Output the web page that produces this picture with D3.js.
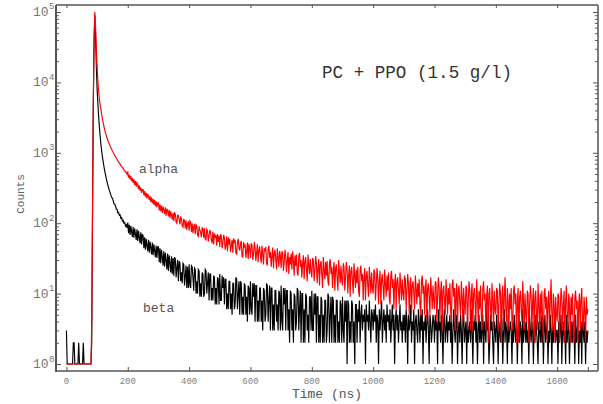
<!DOCTYPE html>
<html><head><meta charset="utf-8">
<script src="https://cdn.jsdelivr.net/npm/d3@7"></script>
<style>body{margin:0;background:#fff}svg{display:block}</style>
</head><body>
<script>
// Histogram bins: bin i is at time i * binWidthNs (ns)
const binWidthNs = 2.5;

const alphaCounts = [
 1,1,1,1,1,1,1,1,1,1,1,1,1,1,1,1,1,1,1,1,1,1,1,1,1,1,1,1,1,1,1,1,1,
 4,150,5000,40000,100000,62000,32000,17000,10500,7500,5800,4800,4100,3500,3000,2650,2350,2100,1900,1750,1620,1500,1410,1330,1250,1180,1120,
 1060,1010,965,915,885,835,810,765,750,705,695,655,648,612,606,570,566,530,532,498,
 530,445,488,420,470,395,440,372,420,350,398,330,375,352,305,345,290,320,270,300,
 300,250,285,238,270,225,262,240,212,245,200,232,192,220,183,214,175,205,168,195,
 195,152,185,148,178,140,172,155,135,168,128,160,150,125,155,118,148,130,112,140,
 108,140,135,104,100,130,128,112,96,122,118,92,88,115,108,84,110,80,98,106,
 78,108,104,75,100,72,88,98,70,95,92,68,65,90,80,74,63,86,84,62,
 85,60,58,82,78,55,66,80,74,57,52,76,50,72,62,68,48,70,54,66,
 46,70,66,44,52,68,62,42,48,65,40,63,50,60,39,47,58,38,61,52,
 58,38,36,55,60,44,41,52,56,34,33,54,45,50,32,40,53,31,51,43,
 32,52,49,30,36,54,45,29,38,50,28,42,47,34,27,48,36,26,44,40,
 46,27,25,43,48,32,39,24,34,45,23,37,42,30,22,44,33,24,40,35,
 23,40,38,21,28,42,34,20,30,39,19,33,26,37,22,40,29,18,35,25,
 36,20,18,34,38,24,30,17,27,35,16,29,33,22,15,36,25,19,31,21,
 17,32,30,15,21,34,27,14,23,31,13,26,29,19,12,33,22,16,28,18,
 29,15,13,27,31,19,24,12,21,28,11,23,26,17,11,30,20,14,25,16,
 13,27,24,11,17,28,22,10,19,25,9,21,24,15,10,27,18,12,22,14,
 24,11,9,22,25,15,19,8,17,23,8,18,21,13,9,24,16,10,20,12,
 10,22,20,8,13,23,17,7,15,21,7,16,19,12,8,22,14,9,18,11,
 20,9,7,18,21,12,16,6,14,19,6,15,17,11,7,20,13,8,16,10,
 8,18,16,6,11,19,14,5,13,17,5,13,15,10,6,18,12,7,14,9,
 16,7,5,15,18,10,13,5,12,16,4,12,14,9,5,17,11,6,13,8,
 6,15,14,4,9,17,12,4,11,15,3,11,13,8,5,16,10,5,12,7,
 14,6,4,13,16,9,12,3,10,14,3,11,13,7,5,15,9,4,12,7,
 5,13,12,3,8,15,11,3,10,14,3,10,12,7,4,16,9,4,11,6,
 13,5,3,12,15,8,10,3,9,13,2,10,12,6,4,14,8,3,11,6,
 5,12,11,3,7,14,10,2,9,13,3,9,17,6,4,12,8,3,10,6,
 12,4,3,11,13,7,10,2,8,12,2,9,11,6,4,15,8,3,10,5,
 4,11,10,2,7,13,9,3,8,12,2,9,11,5,3,14,7,3,10,5,
 11,4,2,10,12,6,9,2,8,11,3,8,16,5,3,10,7,2,9,5,
 4,10,9,2,6,12,9,3,7,11,2,8,13,5,3,10,7,2,9,5,
 10,3,2,9,11,6,8,2,7,10,3,8,12,4,3,9,6,2,9,5,
 6
];

const betaCounts = [
 3,1,1,1,1,1,1,1,1,2,2,1,1,1,1,1,2,1,1,1,1,1,2,1,1,1,1,1,1,1,1,1,1,
 2,120,4000,35000,90000,45000,17000,8000,5000,3300,2300,1700,1300,1050,870,740,630,550,485,430,385,348,318,292,270,250,233,
 225,210,188,186,176,158,158,141,143,129,131,117,120,107,110,100,102,92,95,86,
 102,72,95,68,92,75,64,88,62,84,70,58,82,56,78,63,52,74,50,70,
 66,44,63,42,60,48,40,58,38,55,45,36,53,35,50,41,33,48,32,46,
 46,28,44,27,42,33,25,40,24,38,30,22,37,21,35,27,20,34,19,32,
 18,33,31,17,23,30,15,29,27,15,20,14,27,26,13,18,25,12,24,12,
 26,13,12,25,24,17,11,23,22,10,15,10,22,21,9,14,9,20,19,9,
 10,22,21,10,14,20,8,19,19,8,12,8,18,17,7,12,7,17,16,7,
 19,8,8,18,12,17,7,16,16,6,10,6,15,15,6,10,5,14,14,6,
 7,17,16,6,10,15,5,15,14,5,9,5,14,13,5,9,4,13,12,5,
 15,6,5,14,9,14,4,13,13,4,8,4,12,12,4,8,3,12,11,4,
 5,14,13,4,8,13,3,12,12,3,7,3,11,11,4,7,3,11,10,3,
 13,4,3,12,7,12,3,11,11,3,6,2,11,10,3,6,2,10,9,3,
 4,12,11,3,6,11,2,10,10,2,6,2,10,9,3,5,2,9,9,3,
 11,3,3,10,5,10,2,9,9,2,5,2,9,8,2,5,2,8,8,2,
 3,10,9,2,5,9,2,9,8,2,5,2,8,8,2,4,2,8,7,2,
 9,3,2,8,4,8,1,8,7,2,4,2,8,7,2,4,1,7,7,2,
 6,4,8,2,5,7,3,5,4,6,1,7,4,5,3,8,4,2,6,5,
 3,6,4,7,2,5,4,1,6,3,5,8,2,4,6,3,5,2,7,4,
 5,3,6,2,4,7,3,5,1,4,6,3,5,2,4,7,3,4,2,5,
 3,5,2,6,4,1,5,3,4,7,2,4,3,6,1,4,5,3,2,6,
 4,2,5,3,6,1,4,3,5,2,4,6,3,1,5,4,2,3,5,4,
 2,5,3,4,1,6,3,4,2,5,3,1,4,6,2,3,5,2,4,3,
 5,2,4,1,3,6,3,2,4,5,1,3,4,2,5,3,1,4,6,2,
 3,4,1,5,2,3,4,2,6,3,1,4,3,5,2,4,1,3,5,2,
 4,2,3,5,1,4,3,2,6,3,4,1,2,5,3,4,2,1,4,3,
 2,5,3,1,4,3,2,5,4,1,3,6,2,4,3,1,5,2,3,4,
 3,1,4,2,5,3,2,4,1,3,5,2,4,3,1,6,2,3,4,2,
 4,2,3,1,5,3,2,4,3,1,4,2,5,3,2,1,4,3,2,5,
 2,4,1,3,5,2,3,4,1,3,2,5,3,1,4,2,3,6,2,3,
 3,1,4,2,3,5,1,3,4,2,3,1,5,2,4,3,1,3,2,4,
 2,4,3,1,5,2,3,4,1,3,2,4,1,5,3,2,4,1,3,2,
 3
];

const xTickValues = [0,200,400,600,800,1000,1200,1400,1600,1700];
const xTickLabels = ["0","200","400","600","800","1000","1200","1400","1600",""];
const yDecades = [0,1,2,3,4,5];
const titleText = "PC + PPO (1.5 g/l)";
const seriesNames = ["alpha","beta"];
const xLabel = "Time (ns)";
const yLabel = "Counts";

const W = 603, H = 404;
const M = {left:56, right:598, top:5, bottom:371};
const FONT = "'Liberation Mono','Courier New',monospace";

const svg = d3.select("body").append("svg").attr("width", W).attr("height", H);

const x = d3.scaleLinear().domain([-34, 1733]).range([M.left, M.right]);
const y = d3.scaleLog().domain([Math.pow(10,-0.0994), Math.pow(10,5.0994)]).range([M.bottom, M.top]);

svg.append("defs").append("clipPath").attr("id","clip")
  .append("rect").attr("x",M.left).attr("y",M.top).attr("width",M.right-M.left).attr("height",M.bottom-M.top);

const toPts = arr => arr.map((v,i)=>({t:i*binWidthNs, v:Math.max(v,1)}));
const line = d3.line().x(d=>x(d.t)).y(d=>y(d.v));

const g = svg.append("g").attr("clip-path","url(#clip)");
g.append("path").datum(toPts(betaCounts)).attr("d",line)
  .attr("fill","none").attr("stroke","#000").attr("stroke-width",1.15);
g.append("path").datum(toPts(alphaCounts)).attr("d",line)
  .attr("fill","none").attr("stroke","#ff0000").attr("stroke-width",1.15);

// tick values
const majorY = yDecades.map(k=>Math.pow(10,k));
const minorY = [];
yDecades.slice(0,-1).forEach(k=>{ for(let m=2;m<=9;m++) minorY.push(m*Math.pow(10,k)); });

const axisColor = "#555";
function styleAxis(sel){
  sel.select(".domain").remove();
  sel.selectAll(".tick line").attr("stroke",axisColor).attr("stroke-width",1);
  sel.selectAll(".tick text").remove();
}
svg.append("g").attr("transform",`translate(0,${M.bottom})`)
  .call(d3.axisBottom(x).tickValues(xTickValues).tickSize(-4)).call(styleAxis);
svg.append("g").attr("transform",`translate(0,${M.top})`)
  .call(d3.axisTop(x).tickValues(xTickValues.slice(0,-1)).tickSize(-3)).call(styleAxis);
svg.append("g").attr("transform",`translate(${M.left},0)`)
  .call(d3.axisLeft(y).tickValues(majorY).tickSize(-5)).call(styleAxis);
svg.append("g").attr("transform",`translate(${M.left},0)`)
  .call(d3.axisLeft(y).tickValues(minorY).tickSize(-3)).call(styleAxis);
svg.append("g").attr("transform",`translate(${M.right},0)`)
  .call(d3.axisRight(y).tickValues(majorY).tickSize(-5)).call(styleAxis);
svg.append("g").attr("transform",`translate(${M.right},0)`)
  .call(d3.axisRight(y).tickValues(minorY).tickSize(-3)).call(styleAxis);

// frame
svg.append("line").attr("x1",M.left).attr("x2",M.left).attr("y1",M.top).attr("y2",M.bottom+1)
  .attr("stroke",axisColor).attr("stroke-width",2);
svg.append("line").attr("x1",M.left).attr("x2",M.right).attr("y1",M.top).attr("y2",M.top)
  .attr("stroke",axisColor).attr("stroke-width",1.5);
svg.append("line").attr("x1",M.right).attr("x2",M.right).attr("y1",M.top).attr("y2",M.bottom)
  .attr("stroke",axisColor).attr("stroke-width",1.5);
svg.append("line").attr("x1",M.left).attr("x2",M.right).attr("y1",M.bottom).attr("y2",M.bottom)
  .attr("stroke",axisColor).attr("stroke-width",1.5);

// x tick labels
svg.append("g").selectAll("text").data(xTickValues).join("text")
  .attr("x",d=>x(d)).attr("y",384).attr("text-anchor","middle")
  .attr("font-family",FONT).attr("font-size",9).attr("fill","#808080")
  .text((d,i)=>xTickLabels[i]);

// y tick labels 10^k
const yl = svg.append("g").selectAll("g").data(yDecades).join("g");
yl.append("text").attr("x",48.5).attr("y",k=>y(Math.pow(10,k))+4)
  .attr("text-anchor","end").attr("font-family",FONT).attr("font-size",13).attr("fill","#777")
  .text("10");
yl.append("text").attr("x",49).attr("y",k=>y(Math.pow(10,k))-2.5)
  .attr("font-family",FONT).attr("font-size",9).attr("fill","#777")
  .text(k=>String(k));

// labels
svg.append("text").attr("x",417).attr("y",78).attr("text-anchor","middle")
  .attr("font-family",FONT).attr("font-size",17.6).attr("fill","#333").text(titleText);
svg.append("text").attr("x",139).attr("y",173)
  .attr("font-family",FONT).attr("font-size",13).attr("fill","#555").text(seriesNames[0]);
svg.append("text").attr("x",143).attr("y",312)
  .attr("font-family",FONT).attr("font-size",13).attr("fill","#555").text(seriesNames[1]);
svg.append("text").attr("x",327).attr("y",398).attr("text-anchor","middle")
  .attr("font-family",FONT).attr("font-size",13).attr("fill","#555").text(xLabel);
svg.append("text").attr("transform","translate(24,194) rotate(-90)").attr("text-anchor","middle")
  .attr("font-family",FONT).attr("font-size",11).attr("fill","#666").text(yLabel);
</script>
</body></html>
